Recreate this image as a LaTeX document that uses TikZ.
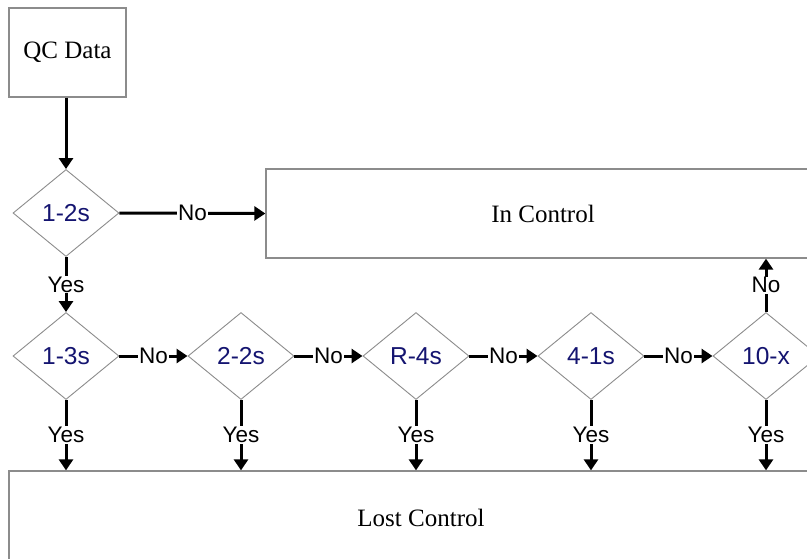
\documentclass[tikz,border=0pt]{standalone}
\usepackage{fontspec}
\setmainfont{Liberation Serif}
\newfontfamily\arialfont{Liberation Sans}
\usetikzlibrary{shapes.geometric,arrows.meta}
\definecolor{dtext}{HTML}{141470}
\definecolor{frame}{HTML}{8C8C8C}
\begin{document}
\begin{tikzpicture}[x=1pt,y=-1pt,
  boxnode/.style={draw=frame,line width=1.3pt,rectangle,inner sep=0pt,
    font=\fontsize{25}{29}\selectfont},
  decision/.style={draw=frame,line width=0.9pt,diamond,inner sep=0pt,
    minimum width=106pt,minimum height=87pt,text=dtext,
    font=\arialfont\fontsize{24.5}{28}\selectfont},
  conn/.style={line width=3pt,-{Triangle[width=14pt,length=11pt]}},
  lbl/.style={fill=white,inner sep=1pt,font=\arialfont\fontsize{22.5}{25}\selectfont}]
\useasboundingbox (0,0) rectangle (807,558);
\clip (0,0) rectangle (807,558);
\fill[white] (0,0) rectangle (807,558);
\node[boxnode,minimum width=117pt,minimum height=89pt] (qc) at (67.5,52.5) {QC Data};
\node[boxnode,minimum width=554pt,minimum height=89pt] (inc) at (543,213.5) {In Control};
\node[boxnode,minimum width=824pt,minimum height=94pt] (lost) at (421,518) {Lost Control};
\node[decision] (d12) at (66,213) {1-2s};
\node[decision] (d13) at (66,356) {1-3s};
\node[decision] (d22) at (241,356) {2-2s};
\node[decision] (dr4) at (416,356) {R-4s};
\node[decision] (d41) at (591,356) {4-1s};
\node[decision] (d10) at (766,356) {10-x};
\draw[conn] (d12.north |- qc.south) -- (d12.north);
\draw[conn] (d12.east) -- node[lbl]{No} (inc.west);
\draw[conn] (d12.south) -- node[lbl]{Yes} (d13.north);
\draw[conn] (d13.east) -- node[lbl]{No} (d22.west);
\draw[conn] (d22.east) -- node[lbl]{No} (dr4.west);
\draw[conn] (dr4.east) -- node[lbl]{No} (d41.west);
\draw[conn] (d41.east) -- node[lbl]{No} (d10.west);
\draw[conn] (d10.north) -- node[lbl]{No} (d10.north |- inc.south);
\foreach \d in {d13,d22,dr4,d41,d10}
  \draw[conn] (\d.south) -- node[lbl]{Yes} (\d.south |- lost.north);
\end{tikzpicture}
\end{document}
